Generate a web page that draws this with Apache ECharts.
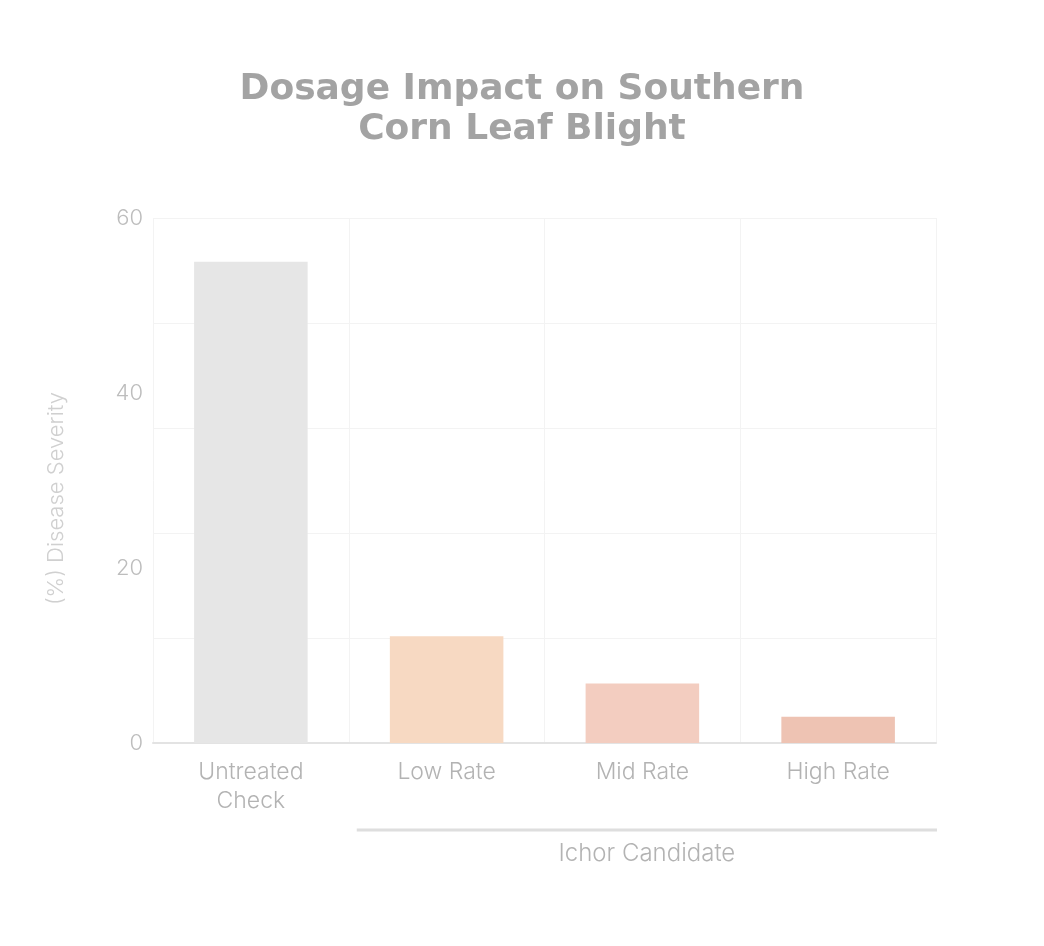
<!DOCTYPE html>
<html><head><meta charset="utf-8">
<script src="https://cdn.jsdelivr.net/npm/echarts@6/dist/echarts.min.js"></script>
<style>html,body{margin:0;padding:0;background:#fff}#c{width:1044px;height:946px}</style>
</head><body><div id="c"></div>
<script>
const categories = ['Untreated\nCheck', 'Low Rate', 'Mid Rate', 'High Rate'];
const severity = [55, 12.2, 6.8, 3.0];
const barColors = ['#e6e6e6', '#f7d9c2', '#f3cdc0', '#eec3b3'];
const groupLabel = 'Ichor Candidate';
const groupFrom = 1, groupTo = 3;
const titleText = 'Dosage Impact on Southern\nCorn Leaf Blight';
const yTitle = '(%) Disease Severity';

const chart = echarts.init(document.getElementById('c'));
const font = 'Inter, "Noto Sans", sans-serif';
chart.setOption({
  animation: false,
  backgroundColor: '#fff',
  title: {
    text: titleText, left: 'center', top: 65,
    textStyle: {fontFamily: '"DejaVu Sans", sans-serif', fontWeight: 'bold', fontSize: 36, color: '#a3a3a3', lineHeight: 40}
  },
  grid: {left: 153, right: 108, top: 218, bottom: 203},
  xAxis: {
    type: 'category', data: categories,
    axisLine: {show: true, lineStyle: {color: '#e3e3e3', width: 2}},
    axisTick: {show: false},
    splitLine: {show: true, lineStyle: {color: '#f3f3f3', width: 1}},
    axisLabel: {fontFamily: font, fontSize: 23, color: '#b3b3b3', margin: 15, lineHeight: 29, fontWeight: 300}
  },
  yAxis: [{
    type: 'value', min: 0, max: 60, interval: 20,
    name: yTitle, nameLocation: 'middle', nameGap: 86,
    nameTextStyle: {fontFamily: font, fontSize: 22, color: '#d0d0d0', fontWeight: 300, padding: [0, 36, 0, 0]},
    axisLine: {show: false}, axisTick: {show: false},
    splitLine: {show: false},
    axisLabel: {fontFamily: font, fontSize: 22, color: '#bdbdbd', margin: 10, fontWeight: 300}
  }, {
    type: 'value', min: 0, max: 60, interval: 12, position: 'left',
    axisLine: {show: false}, axisTick: {show: false}, axisLabel: {show: false},
    splitLine: {show: true, lineStyle: {color: '#f3f3f3', width: 1}}
  }],
  series: [{
    type: 'bar', yAxisIndex: 0, barWidth: '58%',
    data: severity.map((v, i) => ({value: v, itemStyle: {color: barColors[i]}}))
  }]
});

function drawGroup() {
  const a = chart.convertToPixel({xAxisIndex: 0}, categories[groupFrom]);
  const b = chart.convertToPixel({xAxisIndex: 0}, categories[groupTo]);
  const half = (b - a) / (groupTo - groupFrom) / 2;
  const x1 = a - half + 8, x2 = b + half + 1;
  const y = chart.convertToPixel({yAxisIndex: 0}, 0) + 87;
  chart.setOption({graphic: [
    {type: 'line', shape: {x1: x1, y1: y, x2: x2, y2: y}, style: {stroke: '#dedede', lineWidth: 3}},
    {type: 'text', x: (x1 + x2) / 2, y: y + 24, style: {text: groupLabel, fontFamily: font, fontSize: 24, fontWeight: 300, fill: '#b3b3b3', align: 'center', verticalAlign: 'middle'}}
  ]});
}
drawGroup();
</script>
</body></html>
